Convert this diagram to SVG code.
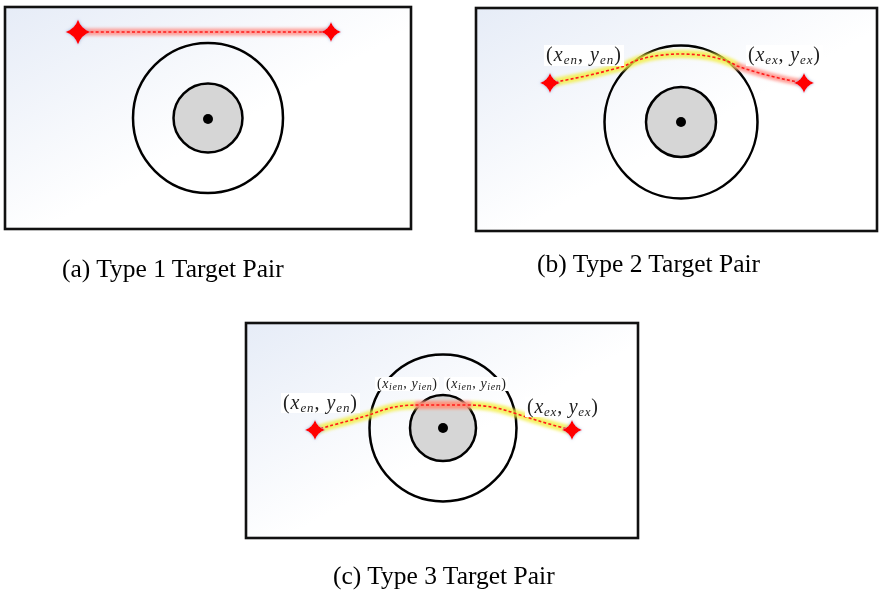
<svg xmlns="http://www.w3.org/2000/svg" width="880" height="590" viewBox="0 0 880 590">
<style>
.panel{stroke:#111;stroke-width:2.6;fill:url(#bg)}
.outer{fill:none;stroke:#000;stroke-width:2.5}
.inner{fill:#d6d6d6;stroke:#000;stroke-width:2.5}
.dot{fill:#000}
.path{fill:none;stroke:#ff1a1a;stroke-width:1.6;stroke-dasharray:3 2.2}
.gy{fill:none;stroke:#f2ee40;stroke-width:8;stroke-linecap:round;opacity:0.8}
.gr{fill:none;stroke:#ff8a80;stroke-width:7;stroke-linecap:round;opacity:0.8}
.star{fill:#ff0000}
.cap{font-family:"Liberation Serif","Times New Roman",serif;font-size:25.5px;fill:#000}
.lab{font-family:"Liberation Serif","Times New Roman",serif;font-size:20px;fill:#222;font-style:italic}
.lab .n{font-style:normal}
.sl{font-family:"Liberation Serif","Times New Roman",serif;font-size:14px;fill:#222;font-style:italic}
.sl .n{font-style:normal}
.lbg{fill:#fff}
</style>
<defs>
<linearGradient id="bg" x1="0" y1="0" x2="1" y2="1">
<stop offset="0" stop-color="#e6ecf7"/>
<stop offset="0.55" stop-color="#ffffff"/>
<stop offset="1" stop-color="#ffffff"/>
</linearGradient>
<filter id="blur" x="-20%" y="-50%" width="140%" height="200%"><feGaussianBlur stdDeviation="1.6"/></filter>
<filter id="sglow" x="-60%" y="-60%" width="220%" height="220%">
<feGaussianBlur in="SourceAlpha" stdDeviation="1.8" result="b"/>
<feFlood flood-color="#9fb4d8"/><feComposite in2="b" operator="in" result="s"/>
<feMerge><feMergeNode in="s"/><feMergeNode in="SourceGraphic"/></feMerge>
</filter>
<path id="st" class="star" d="M0,-10 Q2.6,-2.6 10,0 Q2.6,2.6 0,10 Q-2.6,2.6 -10,0 Q-2.6,-2.6 0,-10 Z"/>
</defs>

<g id="panel-a">
<rect class="panel" x="5" y="7" width="406" height="222"/>
<circle class="outer" cx="208" cy="118" r="75"/>
<circle class="inner" cx="208" cy="118" r="34.5"/>
<circle class="dot" cx="208" cy="119" r="5"/>
</g>
<g id="panel-b">
<rect class="panel" x="476" y="8" width="401" height="223"/>
<circle class="outer" cx="681" cy="122" r="76.5"/>
<circle class="inner" cx="681" cy="122" r="35"/>
<circle class="dot" cx="681" cy="122" r="5"/>
</g>
<g id="panel-c">
<rect class="panel" x="246" y="323" width="392" height="215"/>
<circle class="outer" cx="443" cy="428" r="73.5"/>
<circle class="inner" cx="443" cy="428" r="33"/>
<circle class="dot" cx="443" cy="428" r="5"/>
</g>

<g id="connectors">
<g filter="url(#blur)">
<path class="gr" d="M80,32 L328,32"/>
<path class="gy" d="M550,83 C590,76 610,70 625,66 C650,50 712,50 737,66"/>
<path class="gr" d="M737,66 C760,74 785,80 804,83"/>
<path class="gy" d="M315,430 C340,423 360,418 372,414 C390,407 400,405 420,405 L466,405 C486,405 500,408 514,413 C535,420 555,426 572,430"/>
<path class="gr" d="M418,405 L468,405" style="stroke-width:8;opacity:0.9"/>
</g>
<path class="path" d="M80,32 L328,32"/>
<path class="path" d="M550,83 C590,76 610,70 625,66 C650,50 712,50 737,66 C760,74 785,80 804,83"/>
<path class="path" d="M315,430 C340,423 360,418 372,414 C390,407 400,405 420,405 L466,405 C486,405 500,408 514,413 C535,420 555,426 572,430"/>
</g>

<g id="stars" filter="url(#sglow)">
<use href="#st" transform="translate(78,32) scale(1.25)"/>
<use href="#st" transform="translate(331,32)"/>
<use href="#st" transform="translate(550,83)"/>
<use href="#st" transform="translate(804,83)"/>
<use href="#st" transform="translate(315,430)"/>
<use href="#st" transform="translate(572,430)"/>
</g>

<g id="labels">
<rect class="lbg" x="544" y="45" width="80" height="21"/>
<text class="lab" x="546" y="61" textLength="75" lengthAdjust="spacing"><tspan class="n">(</tspan>x<tspan font-size="13" dy="3">en</tspan><tspan class="n" dy="-3">, </tspan>y<tspan font-size="13" dy="3">en</tspan><tspan class="n" dy="-3">)</tspan></text>
<rect class="lbg" x="746" y="45" width="77" height="21"/>
<text class="lab" x="748" y="61" textLength="72" lengthAdjust="spacing"><tspan class="n">(</tspan>x<tspan font-size="13" dy="3">ex</tspan><tspan class="n" dy="-3">, </tspan>y<tspan font-size="13" dy="3">ex</tspan><tspan class="n" dy="-3">)</tspan></text>

<rect class="lbg" x="281" y="393" width="79" height="20"/>
<text class="lab" x="283" y="409" textLength="74" lengthAdjust="spacing"><tspan class="n">(</tspan>x<tspan font-size="13" dy="3">en</tspan><tspan class="n" dy="-3">, </tspan>y<tspan font-size="13" dy="3">en</tspan><tspan class="n" dy="-3">)</tspan></text>
<rect class="lbg" x="525" y="397" width="77" height="20"/>
<text class="lab" x="527" y="413" textLength="71" lengthAdjust="spacing"><tspan class="n">(</tspan>x<tspan font-size="13" dy="3">ex</tspan><tspan class="n" dy="-3">, </tspan>y<tspan font-size="13" dy="3">ex</tspan><tspan class="n" dy="-3">)</tspan></text>
<rect class="lbg" x="375" y="377" width="64" height="14"/>
<text class="sl" x="377" y="388" textLength="60" lengthAdjust="spacing"><tspan class="n">(</tspan>x<tspan font-size="10" dy="2">ien</tspan><tspan class="n" dy="-2">, </tspan>y<tspan font-size="10" dy="2">ien</tspan><tspan class="n" dy="-2">)</tspan></text>
<rect class="lbg" x="444" y="377" width="64" height="14"/>
<text class="sl" x="446" y="388" textLength="60" lengthAdjust="spacing"><tspan class="n">(</tspan>x<tspan font-size="10" dy="2">ien</tspan><tspan class="n" dy="-2">, </tspan>y<tspan font-size="10" dy="2">ien</tspan><tspan class="n" dy="-2">)</tspan></text>
</g>

<g id="captions">
<text class="cap" x="62" y="277">(a) Type 1 Target Pair</text>
<text class="cap" x="537" y="272">(b) Type 2 Target Pair</text>
<text class="cap" x="333" y="584">(c) Type 3 Target Pair</text>
</g>
</svg>
